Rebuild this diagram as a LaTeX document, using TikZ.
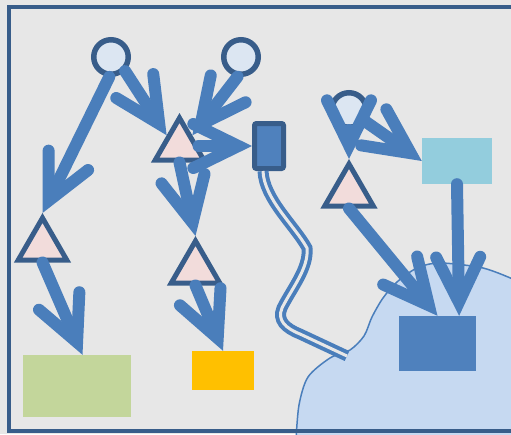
\documentclass[tikz,border=0pt]{standalone}
\usepackage{xcolor}
\usepackage{tikz}
\usetikzlibrary{arrows.meta,shapes.geometric,calc}
\definecolor{SketchBg}{RGB}{231,231,231}
\definecolor{SketchNavy}{RGB}{56,93,138}
\definecolor{SketchIce}{RGB}{220,230,242}
\definecolor{SketchRose}{RGB}{242,220,219}
\definecolor{SketchArrow}{RGB}{74,126,187}
\definecolor{SketchBlue}{RGB}{79,129,189}
\definecolor{SketchCyan}{RGB}{147,205,221}
\definecolor{SketchGreen}{RGB}{195,214,155}
\definecolor{SketchAmber}{RGB}{255,192,0}
\definecolor{SketchCloud}{RGB}{198,217,241}

\begin{document}
\begin{tikzpicture}[x=1pt, y=-1pt,
    bubble/.style={circle, draw=SketchNavy, fill=SketchIce, line width=5.5pt, minimum size=34.5pt, inner sep=0pt},
    wedge/.style={regular polygon, regular polygon sides=3, draw=SketchNavy, fill=SketchRose, line width=5pt, minimum size=56pt, inner sep=0pt},
    flat/.style={rectangle, inner sep=0pt},
    flow/.style={draw=SketchArrow, line width=12pt, line cap=round, -{Straight Barb[length=45pt, width=44pt, line cap=round, line join=miter]}},
    cable/.style={draw=SketchArrow, line width=4pt, double=SketchBg, double distance=3pt}]
    \useasboundingbox (0,0) rectangle (511,434);
    \clip (0,0) rectangle (511,434);
    \fill[SketchBg] (0,0) rectangle (511,434);

    % cloud behind the target box
    \fill[SketchCloud] plot[smooth] coordinates {(296,440) (299,405) (308,377) (330,358) (350,350) (364,336) (372,317) (383,298) (397,282) (417,268) (440,263) (483,268) (515,280)} -- (515,440) -- cycle;
    \draw[SketchArrow, line width=1.5pt] plot[smooth] coordinates {(296,440) (299,405) (308,377) (330,358) (350,350) (364,336) (372,317) (383,298) (397,282) (417,268) (440,263) (483,268) (515,280)};

    % sources and stages
    \node[bubble] (ca) at (111,57) {};
    \node[bubble] (cb) at (241,57) {};
    \node[bubble] (cc) at (349,110) {};
    \node[wedge] (t1) at (42.5,246) {};
    \node[wedge] (t2) at (179.5,146) {};
    \node[wedge] (t3) at (195.5,269) {};
    \node[wedge] (t4) at (349,192) {};
    \node[flat, draw=SketchNavy, fill=SketchBlue, line width=5pt, rounded corners=2pt, minimum width=29pt, minimum height=45pt] (dev) at (269,146) {};

    % sinks
    \node[flat, fill=SketchCyan, minimum width=70pt, minimum height=46pt] (cyan) at (457,161) {};
    \node[flat, fill=SketchGreen, minimum width=108pt, minimum height=62pt] (grn) at (77,386) {};
    \node[flat, fill=SketchAmber, minimum width=62pt, minimum height=39pt] (amb) at (223,370.5) {};
    \node[flat, fill=SketchBlue, minimum width=77pt, minimum height=55pt] (blu) at (437.5,343.5) {};

    % cable
    \coordinate (plug) at (347,356);
    \draw[cable] ([xshift=-6pt]dev.south) .. controls +(1,28) and +(-12,-22) .. (307,248)
      .. controls +(2,20) and +(10,-20) .. (282,308)
      .. controls +(-5,12) and +(-15,-6) .. (300,334) -- (plug);

    % flows
    \draw[flow] (ca.-95) -- (t1.corner 1);
    \draw[flow] (ca.-45) -- ($(t2.corner 1)!0.45!(t2.corner 2)$);
    \draw[flow] (cb.-100) -- ($(t2.corner 1)!0.45!(t2.corner 3)$);
    \draw[flow] (t2) -- (dev.west);
    \draw[flow] (t2.south) -- (t3.corner 1);
    \draw[flow] (t1.south) -- (grn.80);
    \draw[flow] (t3.south) -- (amb.north);
    \draw[flow] (cc) -- (t4.corner 1);
    \draw[flow] (cc) -- (cyan.west);
    \draw[flow] (t4.south) -- (blu.north);
    \draw[flow] (cyan.south) -- (blu.52);

    % frame
    \draw[SketchNavy, line width=4pt] (515,7) -- (8.5,7) -- (8.5,431) -- (515,431);
\end{tikzpicture}
\end{document}
